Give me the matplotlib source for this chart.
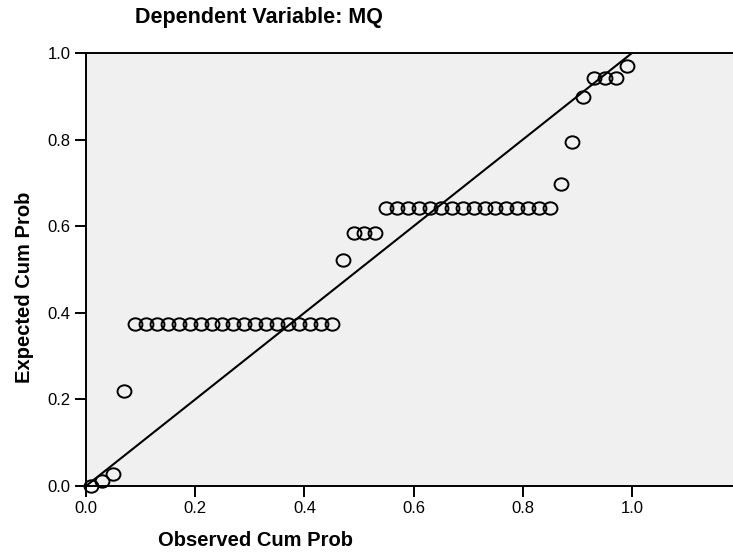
import numpy as np
import matplotlib.pyplot as plt
from matplotlib.path import Path
from matplotlib.transforms import Affine2D

plt.rcParams['font.family'] = ['Liberation Sans', 'DejaVu Sans']

# observed cumulative probability (50 cases)
observed = np.arange(0.01, 1.0, 0.02)
# expected cumulative probability
expected = ([0.0, 0.011, 0.028, 0.219]
            + [0.373] * 19
            + [0.522]
            + [0.585] * 3
            + [0.642] * 16
            + [0.697, 0.795, 0.899]
            + [0.943] * 3
            + [0.971])

title = "Dependent Variable: MQ"
xlab = "Observed Cum Prob"
ylab = "Expected Cum Prob"
ticks = [0.0, 0.2, 0.4, 0.6, 0.8, 1.0]

fig = plt.figure(figsize=(7.33, 5.57), dpi=100)
ax = fig.add_axes([86 / 733, 71 / 557, 1 - 86 / 733, 433 / 557])
ax.set_facecolor('#f0f0f0')

# slightly wide open circle like the SPSS marker
ring = Path.unit_circle().transformed(Affine2D().scale(1.12, 1.0))
ax.plot([0, 1], [0, 1], color='black', lw=1.5, zorder=2)
ax.plot(observed, expected, linestyle='none', marker=ring, markersize=10,
        markerfacecolor='none', markeredgecolor='black', markeredgewidth=1.4,
        zorder=3, clip_on=False)

ax.set_xlim(0, 647 / 546)
ax.set_ylim(0, 1)
ax.set_xticks(ticks)
ax.set_yticks(ticks)
ax.set_xticklabels([f"{t:.1f}" for t in ticks])
ax.set_yticklabels([f"{t:.1f}" for t in ticks])
ax.tick_params(direction='out', length=8, width=1.4, labelsize=12, pad=3)
ax.spines['right'].set_visible(False)
for s in ['left', 'bottom', 'top']:
    ax.spines[s].set_linewidth(1.4)

fig.text(259 / 733, 1 - 18 / 557, title, ha='center', va='center',
         fontsize=15.5, fontweight='bold')
fig.text(256 / 733, 1 - 541 / 557, xlab, ha='center', va='center',
         fontsize=14.5, fontweight='bold')
fig.text(25 / 733, 1 - 287 / 557, ylab, ha='center', va='center',
         rotation=90, fontsize=14.5, fontweight='bold')

fig.savefig('out.png', dpi=100)
